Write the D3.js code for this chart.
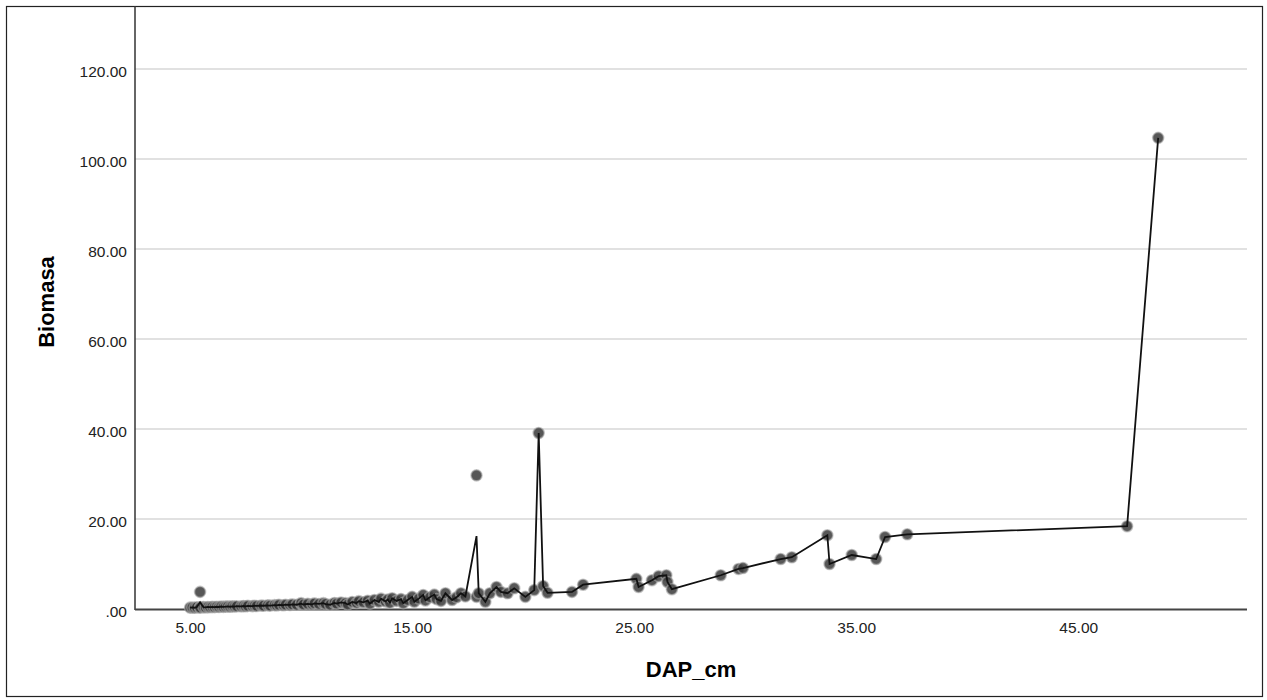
<!DOCTYPE html>
<html>
<head>
<meta charset="utf-8">
<script src="https://cdn.jsdelivr.net/npm/d3@7"></script>
<style>
  html, body { margin: 0; padding: 0; background: #fff; }
  svg { display: block; font-family: "Liberation Sans", Arial, sans-serif; }
</style>
</head>
<body>
<div id="chart"></div>
<script>
// DAP (cm) and biomass of each tree
const dap = [
  5.0, 5.1, 5.2, 5.3, 5.45, 5.45, 5.45, 5.6, 5.7, 5.8, 5.9, 6.0, 6.1, 6.2, 6.3, 6.4,
  6.5, 6.6, 6.7, 6.8, 6.9, 7.0, 7.1, 7.3, 7.4, 7.5, 7.6, 7.8, 7.9, 8.0, 8.2, 8.3,
  8.5, 8.6, 8.8, 8.9, 9.0, 9.2, 9.3, 9.5, 9.6, 9.8, 10.0, 10.0, 10.1, 10.3, 10.5, 10.6,
  10.8, 11.0, 11.1, 11.3, 11.5, 11.6, 11.8, 12.0, 12.1, 12.3, 12.5, 12.6, 12.8, 13.0,
  13.1, 13.3, 13.5, 13.6, 13.8, 13.9, 14.0, 14.1, 14.3, 14.5, 14.6, 14.8, 15.0, 15.1,
  15.3, 15.5, 15.6, 15.8, 16.0, 16.1, 16.3, 16.5, 16.8, 17.0, 17.2, 17.4, 17.9, 17.9,
  18.0, 18.3, 18.5, 18.8, 19.0, 19.3, 19.6, 20.1, 20.5, 20.7, 20.9, 21.1, 22.2, 22.7,
  25.1, 25.2, 25.8, 26.1, 26.45, 26.5, 26.7, 28.9, 29.7, 29.9, 31.6, 32.1, 33.7, 33.8,
  34.8, 35.9, 36.3, 37.3, 47.2, 48.6
];
const biomasa = [
  0.30, 0.35, 0.28, 0.40, 3.80, 0.38, 0.30, 0.42, 0.35, 0.45, 0.40, 0.48, 0.42, 0.50, 0.45, 0.55,
  0.48, 0.52, 0.58, 0.50, 0.60, 0.55, 0.62, 0.58, 0.66, 0.60, 0.70, 0.65, 0.72, 0.68, 0.78, 0.72,
  0.82, 0.75, 0.86, 0.80, 0.92, 0.85, 0.95, 0.90, 1.02, 0.95, 1.10, 1.30, 1.00, 1.15, 1.05, 1.25,
  1.12, 1.30, 1.10, 0.95, 1.35, 1.20, 1.45, 1.30, 1.00, 1.55, 1.35, 1.75, 1.50, 1.85,
  1.20, 2.00, 1.60, 2.30, 1.70, 2.10, 1.40, 2.40, 1.80, 2.20, 1.30, 2.00, 2.70, 1.60,
  2.30, 3.10, 1.90, 2.60, 3.20, 2.20, 1.80, 3.50, 2.00, 2.60, 3.50, 2.80, 29.70, 2.70,
  3.50, 1.60, 3.50, 4.90, 3.80, 3.50, 4.60, 2.70, 4.20, 39.10, 5.10, 3.60, 3.80, 5.40,
  6.70, 4.90, 6.40, 7.30, 7.50, 6.00, 4.40, 7.50, 8.90, 9.10, 11.10, 11.50, 16.40, 10.00,
  12.00, 11.10, 16.00, 16.60, 18.40, 104.70
];
const yTicks = [0, 20, 40, 60, 80, 100, 120];
const xTicks = [5, 15, 25, 35, 45];

const width = 1267, height = 700;
const plot = { left: 135, right: 1247, top: 6, bottom: 609 };

const svg = d3.select("#chart").append("svg")
  .attr("width", width)
  .attr("height", height);

// outer frame
svg.append("rect")
  .attr("x", 6.5).attr("y", 6.5)
  .attr("width", 1256).attr("height", 690)
  .attr("fill", "none")
  .attr("stroke", "#222")
  .attr("stroke-width", 1.2);

const x = d3.scaleLinear().domain([2.52, 52.6]).range([plot.left, plot.right]);
const y = d3.scaleLinear().domain([0, 134]).range([plot.bottom, plot.top]);

// gridlines
svg.append("g")
  .selectAll("line")
  .data(yTicks.filter(d => d > 0))
  .join("line")
  .attr("x1", plot.left).attr("x2", plot.right)
  .attr("y1", d => y(d)).attr("y2", d => y(d))
  .attr("stroke", "#c4c4c4")
  .attr("stroke-width", 1.2);

// axes (SPSS style: no tick marks, ".00" for zero)
const fmt = d => d === 0 ? ".00" : d3.format(".2f")(d);
const yAxis = svg.append("g")
  .attr("transform", `translate(${plot.left},0)`)
  .call(d3.axisLeft(y).tickValues(yTicks).tickFormat(fmt).tickSize(0).tickPadding(8));
const xAxis = svg.append("g")
  .attr("transform", `translate(0,${plot.bottom})`)
  .call(d3.axisBottom(x).tickValues(xTicks).tickFormat(fmt).tickSize(0).tickPadding(13));
[yAxis, xAxis].forEach(g => {
  g.select(".domain").remove();
  g.selectAll("text")
    .style("font-family", "'Liberation Sans', Arial, sans-serif")
    .style("font-size", "15.5px")
    .attr("fill", "#222");
});
yAxis.selectAll("text").attr("dy", "0.5em");

svg.append("line")
  .attr("x1", plot.left).attr("x2", plot.left)
  .attr("y1", plot.top).attr("y2", plot.bottom + 1)
  .attr("stroke", "#333").attr("stroke-width", 1.5);
svg.append("line")
  .attr("x1", plot.left).attr("x2", plot.right)
  .attr("y1", plot.bottom + 0.5).attr("y2", plot.bottom + 0.5)
  .attr("stroke", "#444").attr("stroke-width", 2);

// axis titles
svg.append("text")
  .attr("x", (plot.left + plot.right) / 2)
  .attr("y", 677)
  .attr("text-anchor", "middle")
  .style("font-size", "22px")
  .style("font-weight", "bold")
  .text("DAP_cm");
svg.append("text")
  .attr("transform", `translate(54,302) rotate(-90)`)
  .attr("text-anchor", "middle")
  .style("font-size", "22px")
  .style("font-weight", "bold")
  .text("Biomasa");

// points
const rows = dap.map((d, i) => ({ dap: d, bio: biomasa[i] }));

svg.append("g")
  .selectAll("circle")
  .data(rows)
  .join("circle")
  .attr("cx", d => x(d.dap))
  .attr("cy", d => y(d.bio))
  .attr("r", 5.5)
  .attr("fill", "#3a3a3a")
  .attr("fill-opacity", 0.85)
  .attr("stroke", "#a8a8a8")
  .attr("stroke-opacity", 0.6)
  .attr("stroke-width", 1.6);

// line through the mean biomass at each DAP value
const means = d3.sort(
  d3.rollups(rows, v => d3.mean(v, d => d.bio), d => d.dap),
  d => d[0]
);
svg.append("path")
  .datum(means)
  .attr("d", d3.line().x(d => x(d[0])).y(d => y(d[1])))
  .attr("fill", "none")
  .attr("stroke", "#111")
  .attr("stroke-width", 1.8);
</script>
</body>
</html>
